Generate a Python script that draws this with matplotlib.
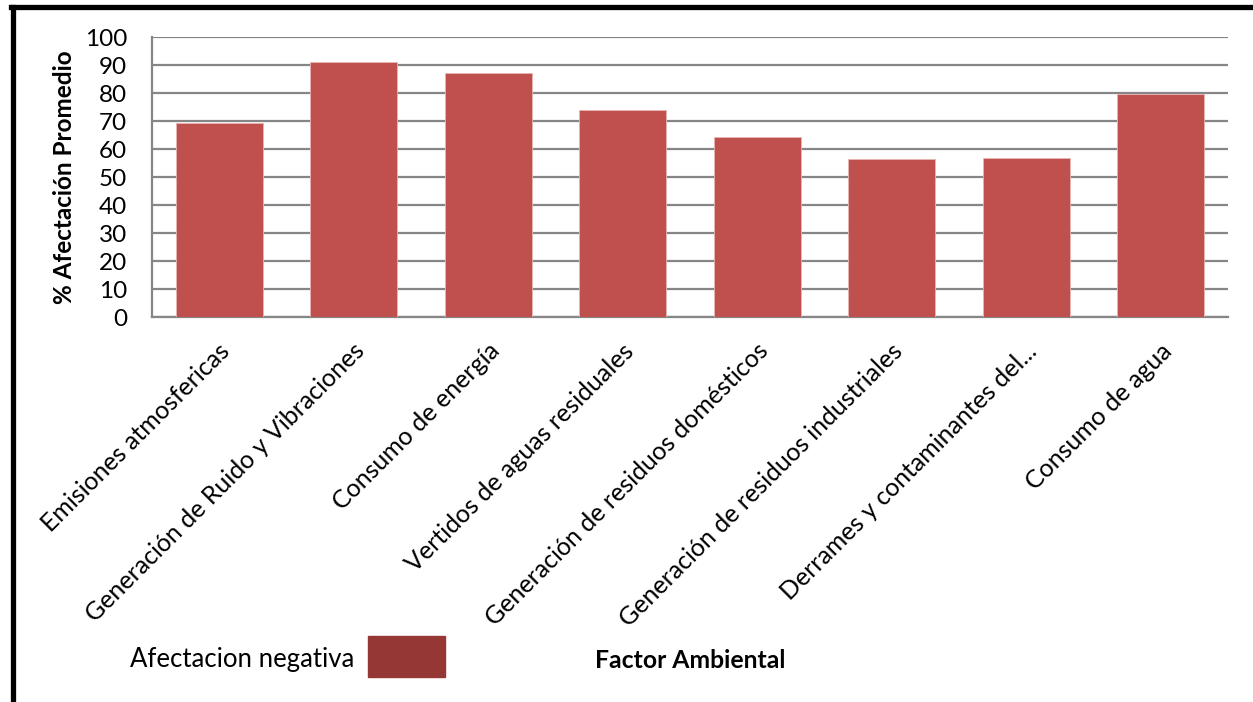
import matplotlib
matplotlib.use("Agg")
import matplotlib.pyplot as plt
from matplotlib.patches import Rectangle
from matplotlib.lines import Line2D
import matplotlib.transforms as mtransforms

plt.rcParams['font.family'] = ['Lato', 'DejaVu Sans']

categories = [
    "Emisiones atmosfericas",
    "Generación de Ruido y Vibraciones",
    "Consumo de energía",
    "Vertidos de aguas residuales",
    "Generación de residuos domésticos",
    "Generación de residuos industriales",
    "Derrames y contaminantes del...",
    "Consumo de agua",
]
values = [69.4, 91.0, 87.3, 73.9, 64.3, 56.3, 56.8, 79.5]
yticks = list(range(0, 101, 10))

BAR_COLOR = "#C0504D"
LEGEND_COLOR = "#953735"
GRID_COLOR = "#868686"

W, H = 1253, 702
fig = plt.figure(figsize=(W / 100, H / 100), dpi=100)
ax = fig.add_axes([152 / W, 1 - 317 / H, (1228 - 152) / W, (317 - 37) / H])

x = list(range(len(categories)))
ax.bar(x, values, width=0.645, color=BAR_COLOR, edgecolor="#E8B5B3",
       linewidth=0.6, zorder=3)

ax.set_xlim(-0.5, len(categories) - 0.5)
ax.set_ylim(0, 100)
ax.set_yticks(yticks)
ax.set_yticklabels([str(t) for t in yticks], fontsize=17.5)
ax.yaxis.grid(True, color=GRID_COLOR, linewidth=1.6, zorder=0)
ax.set_axisbelow(True)
ax.tick_params(axis='y', length=0, pad=18)
ax.tick_params(axis='x', length=0, pad=16)

ax.set_xticks(x)
ax.set_xticklabels(categories, fontsize=18, rotation=45, ha='right',
                   va='top', rotation_mode='anchor')
offset = mtransforms.ScaledTranslation(-1 / 100, 0, fig.dpi_scale_trans)
for lab in ax.get_xticklabels():
    lab.set_transform(lab.get_transform() + offset)

for side in ("top", "right"):
    ax.spines[side].set_visible(False)
for side in ("left", "bottom"):
    ax.spines[side].set_color(GRID_COLOR)
    ax.spines[side].set_linewidth(1.6)

fig.text(65 / W, 1 - 177 / H, "% Afectación Promedio", rotation=90,
         ha='center', va='center', fontsize=17.5, fontweight='bold')

# legend and axis title at the bottom
fig.text(130 / W, 1 - 660 / H, "Afectacion negativa", ha='left',
         va='center', fontsize=18.5)
fig.patches.append(Rectangle((368 / W, 1 - 677 / H), 77 / W, 41 / H,
                             transform=fig.transFigure, color=LEGEND_COLOR))
fig.text(595 / W, 1 - 660 / H, "Factor Ambiental", ha='left', va='center',
         fontsize=17.8, fontweight='bold')

# thick black frame (cut at right and bottom)
fig.lines.append(Line2D([12.5 / W, 12.5 / W], [0, 1 - 7 / H],
                        transform=fig.transFigure, color='black', lw=3.8))
fig.lines.append(Line2D([10.5 / W, 1], [1 - 7 / H, 1 - 7 / H],
                        transform=fig.transFigure, color='black', lw=3.8))

fig.savefig("out.png", dpi=100)
